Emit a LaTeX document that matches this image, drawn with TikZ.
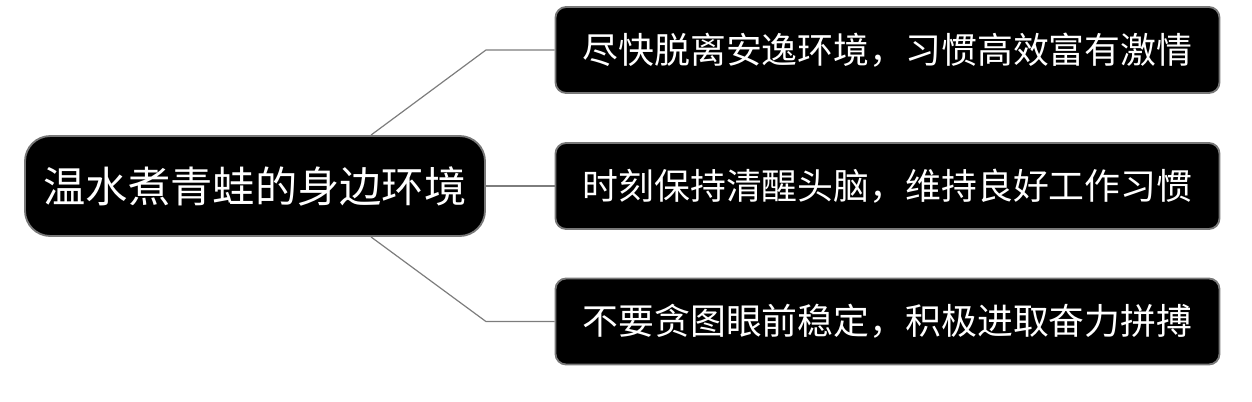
\documentclass[tikz,border=0pt]{standalone}
\usepackage{fontspec}
\setmainfont{Noto Sans CJK SC}
\definecolor{edgegray}{RGB}{125,125,125}
\definecolor{bordergray}{RGB}{120,120,120}
\begin{document}
\begin{tikzpicture}[x=0.75pt,y=-0.75pt,
  rootbox/.style={draw=bordergray,line width=1.4pt,fill=black,text=white,rounded corners=19pt,
    minimum width=345pt,minimum height=75pt,inner sep=0pt,font=\fontsize{31.7}{36}\selectfont},
  leafbox/.style={draw=bordergray,line width=1.4pt,fill=black,text=white,rounded corners=8pt,
    minimum width=498pt,minimum height=64.5pt,inner sep=0pt,font=\fontsize{26.9}{30}\selectfont},
  link/.style={draw=edgegray,line width=0.9pt}]
\useasboundingbox (0,0) rectangle (1252,401);
\node[rootbox] (root) at (255,186) {温水煮青蛙的身边环境};
\node[leafbox] (b1) at (887.5,50) {尽快脱离安逸环境，习惯高效富有激情};
\node[leafbox] (b2) at (887.5,186) {时刻保持清醒头脑，维持良好工作习惯};
\node[leafbox] (b3) at (887.5,321.5) {不要贪图眼前稳定，积极进取奋力拼搏};
\draw[link] ([xshift=87pt]root.north) -- (b1.west -| root.east) -- (b1.west);
\draw[link] (root.east) -- (b2.west);
\draw[link] ([xshift=87pt]root.south) -- (b3.west -| root.east) -- (b3.west);
\end{tikzpicture}
\end{document}
